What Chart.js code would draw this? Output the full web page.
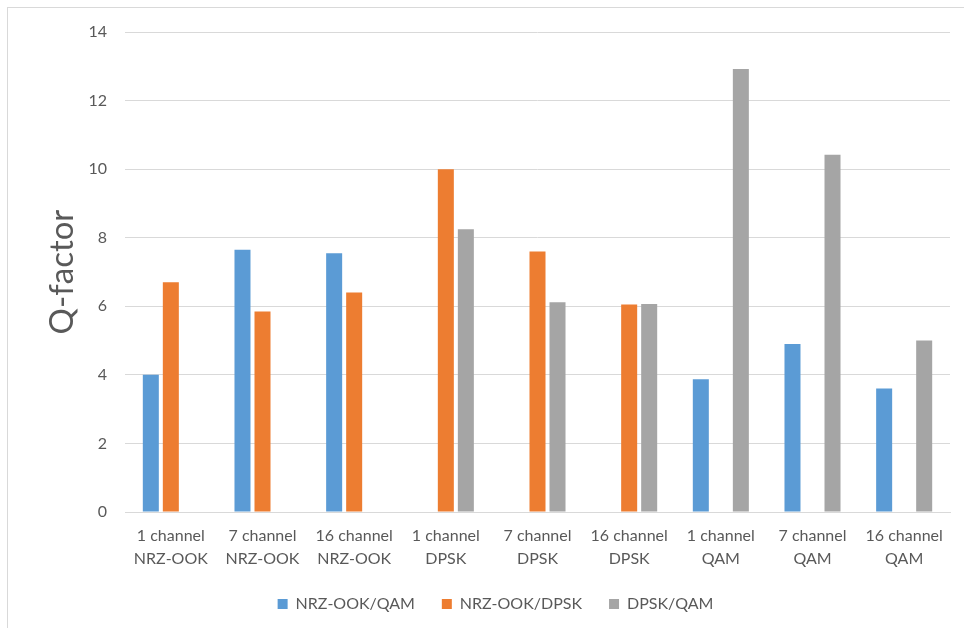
<!DOCTYPE html>
<html>
<head>
<meta charset="utf-8">
<script src="https://cdn.jsdelivr.net/npm/chart.js@4.4.1/dist/chart.umd.min.js"></script>
<style>
  html, body { margin: 0; padding: 0; background: #ffffff; }
  #wrap { position: relative; width: 964px; height: 628px; overflow: hidden; }
  #frame { position: absolute; left: 7px; top: 7px; width: 1000px; height: 700px; border-left: 1px solid #d9d9d9; border-top: 1px solid #d9d9d9; box-sizing: border-box; }
  canvas { position: absolute; left: 0; top: 0; }
</style>
</head>
<body>
<div id="wrap">
  <div id="frame"></div>
  <canvas id="c" width="964" height="628"></canvas>
</div>
<script>
const categories = [
  ["1 channel", "NRZ-OOK"], ["7 channel", "NRZ-OOK"], ["16 channel", "NRZ-OOK"],
  ["1 channel", "DPSK"], ["7 channel", "DPSK"], ["16 channel", "DPSK"],
  ["1 channel", "QAM"], ["7 channel", "QAM"], ["16 channel", "QAM"]
];
const seriesNames = ["NRZ-OOK/QAM", "NRZ-OOK/DPSK", "DPSK/QAM"];
const nrzOokQam  = [4.0, 7.65, 7.55, null, null, null, 3.87, 4.9, 3.6];
const nrzOokDpsk = [6.7, 5.85, 6.4, 10.0, 7.6, 6.05, null, null, null];
const dpskQam    = [null, null, null, 8.25, 6.12, 6.07, 12.92, 10.42, 5.0];
const yTicks = [0, 2, 4, 6, 8, 10, 12, 14];
const yTitle = "Q-factor";

const colors = ["#5B9BD5", "#ED7D31", "#A5A5A5"];
const textColor = "#595959";
const fontFamily = "Lato, 'Open Sans', sans-serif";

new Chart(document.getElementById("c"), {
  type: "bar",
  data: {
    labels: categories,
    datasets: [nrzOokQam, nrzOokDpsk, dpskQam].map((d, i) => ({
      label: seriesNames[i],
      data: d,
      backgroundColor: colors[i],
      borderWidth: 0,
      categoryPercentage: 0.655,
      barPercentage: 0.8
    }))
  },
  options: {
    responsive: false,
    animation: false,
    devicePixelRatio: 1,
    layout: { padding: { top: 32, right: 14, left: 41, bottom: 6 } },
    plugins: {
      tooltip: { enabled: false },
      legend: {
        position: "bottom",
        labels: {
          boxWidth: 10, boxHeight: 10, padding: 27,
          color: textColor,
          font: { family: fontFamily, size: 16 }
        }
      }
    },
    scales: {
      x: {
        afterFit: (s) => { s.height = 57; },
        grid: { display: false, drawTicks: false },
        border: { color: "#d9d9d9", width: 1 },
        ticks: {
          color: textColor, font: { family: fontFamily, size: 16, lineHeight: 1.44 },
          maxRotation: 0, autoSkip: false, padding: 12.5
        }
      },
      y: {
        min: 0, max: 14,
        afterBuildTicks: (s) => { s.ticks = yTicks.map(v => ({ value: v })); },
        afterFit: (s) => { s.width = 84; },
        grid: { color: "#d9d9d9", drawTicks: false },
        border: { display: false },
        ticks: { color: textColor, font: { family: fontFamily, size: 16 }, padding: 18 },
        title: {
          display: true, text: yTitle, color: textColor,
          font: { family: fontFamily, size: 33 },
          padding: { top: 1.7, bottom: 0 }
        }
      }
    }
  }
});
</script>
</body>
</html>
